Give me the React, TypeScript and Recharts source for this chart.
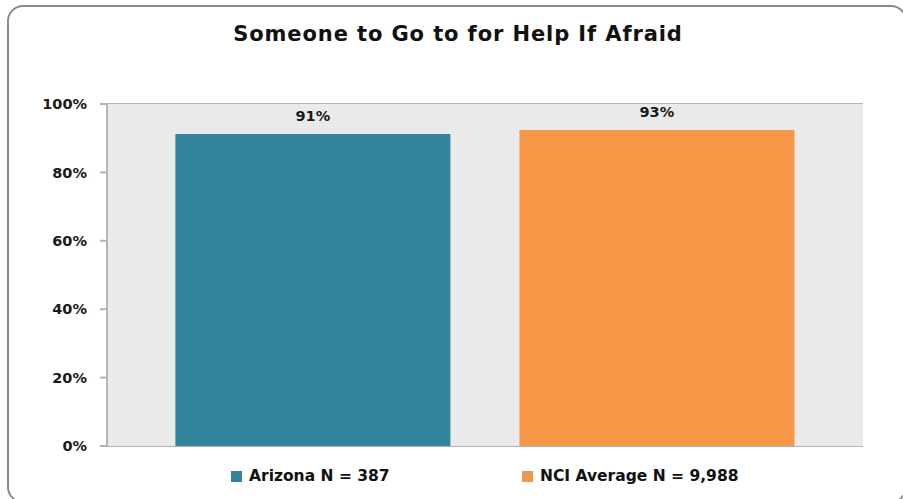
import React from "react";
import { BarChart, Bar, XAxis, YAxis, CartesianGrid, LabelList, Cell } from "recharts";

const categories = ["Arizona N = 387", "NCI Average N = 9,988"];
const values = [0.912, 0.924];
const valueLabels = ["91%", "93%"];
const colors = ["#31849B", "#F79646"];
const yTicks = [0, 0.2, 0.4, 0.6, 0.8, 1];

const data = categories.map((c, i) => ({ name: c, value: values[i], label: valueLabels[i] }));

const FONT = "'DejaVu Sans', Verdana, sans-serif";

export default function App() {
  return (
    <div style={{ position: "absolute", left: 0, top: 0, width: 903, height: 499, overflow: "hidden", background: "#fff", fontFamily: FONT }}>
      <div style={{ position: "absolute", left: 7, top: 5, width: 900, height: 498, border: "2px solid #8a8a8a", borderRadius: 16, boxSizing: "border-box" }} />
      <div style={{ position: "absolute", left: 0, top: 22, width: 916, textAlign: "center", fontSize: 21, letterSpacing: 0.9, fontWeight: 700, color: "#111" }}>
        Someone to Go to for Help If Afraid
      </div>
      <div style={{ position: "absolute", left: 0, top: 0 }}>
        <BarChart width={903} height={499} data={data} margin={{ top: 104, right: 40, bottom: 53, left: 0 }} barCategoryGap="10%">
          <rect x={107} y={104} width={756} height={342} fill="#EAEAEA" />
          <CartesianGrid vertical={false} stroke="#b5b5b5" strokeWidth={2} fill="#EAEAEA" />
          <XAxis dataKey="name" hide padding={{ left: 34, right: 34 }} />
          <YAxis
            domain={[0, 1]}
            ticks={yTicks}
            width={107}
            tickFormatter={(v: number) => `${Math.round(v * 100)}%`}
            tick={{ fill: "#1a1a1a", fontSize: 14.5, fontWeight: 700, fontFamily: FONT }}
            tickLine={{ stroke: "#b5b5b5", strokeWidth: 2 }}
            tickSize={7}
            tickMargin={13}
            axisLine={{ stroke: "#a0a0a0", strokeWidth: 1.5 }}
          />
          <Bar dataKey="value" isAnimationActive={false}>
            {data.map((d, i) => (
              <Cell key={d.name} fill={colors[i]} />
            ))}
            <LabelList dataKey="label" position="top" offset={13} style={{ fill: "#1a1a1a", fontSize: 14.5, fontWeight: 700, fontFamily: FONT }} />
          </Bar>
        </BarChart>
      </div>
      {categories.map((c, i) => (
        <div key={c} style={{ position: "absolute", left: i === 0 ? 231 : 522, top: 467, display: "flex", alignItems: "center", fontSize: 15.5, fontWeight: 700, color: "#111", whiteSpace: "nowrap" }}>
          <span style={{ display: "inline-block", width: 11, height: 11, background: colors[i], marginRight: 7 }} />
          <span>{c}</span>
        </div>
      ))}
    </div>
  );
}
